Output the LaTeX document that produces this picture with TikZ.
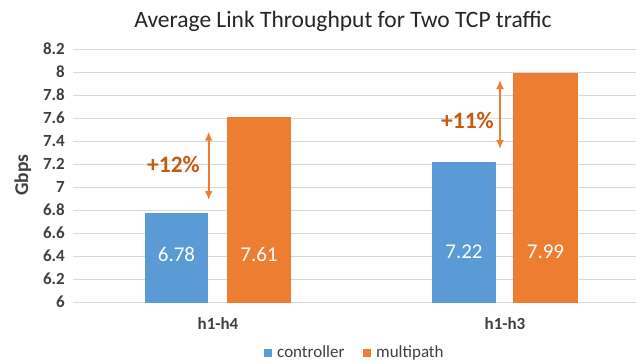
\documentclass[tikz,border=0pt]{standalone}
\usepackage{fontspec}
\setmainfont{Carlito}
\usepackage{tikz}
\usetikzlibrary{arrows.meta, positioning}
\definecolor{barblue}{HTML}{5B9BD5}
\definecolor{barorange}{HTML}{ED7D31}
\definecolor{gaintext}{HTML}{C55A11}
\definecolor{gridgray}{HTML}{D9D9D9}
\definecolor{axistext}{HTML}{404040}
\definecolor{titletext}{HTML}{262626}

\begin{document}
\begin{tikzpicture}[x=1pt,y=-1pt,>={Latex[length=9pt,width=8pt]},
        gridline/.style={gridgray, line width=1pt},
        ticklab/.style={anchor=base east, inner sep=0pt, text=axistext, font=\bfseries\fontsize{17}{20}\selectfont},
        catlab/.style={anchor=base, inner sep=0pt, text=axistext, font=\bfseries\fontsize{17}{20}\selectfont},
        vallab/.style={anchor=base, inner sep=0pt, text=white, font=\fontsize{21}{24}\selectfont},
        gainlab/.style={anchor=base, inner sep=0pt, text=gaintext, font=\bfseries\fontsize{23.5}{26}\selectfont},
        gainarrow/.style={<->, barorange, line width=2pt},
        legendlab/.style={anchor=base west, inner sep=0pt, text=axistext, font=\fontsize{17}{20}\selectfont}]
    \useasboundingbox[fill=white] (0,0) rectangle (636,362);
    % title
    \node[anchor=base, inner sep=0pt, text=titletext, font=\fontsize{23.5}{26}\selectfont] (title) at (343,27) {Average Link Throughput for Two TCP traffic};
    % grid and ticks
    \foreach \lab [count=\i from 0] in {6,6.2,6.4,6.6,6.8,7,7.2,7.4,7.6,7.8,8,8.2} {
        \draw[gridline] (73,{302.7-\i*23.04}) -- (636,{302.7-\i*23.04});
        \node[ticklab] (tick\i) at (65,{307.7-\i*23.04}) {\lab};
    }
    \node[anchor=base, rotate=90, inner sep=0pt, text=axistext, font=\bfseries\fontsize{19.5}{22}\selectfont] (ylab) at (28,175) {Gbps};
    % bars
    \foreach \xl/\xr/\v/\col in {145/208/6.78/barblue, 227/291/7.61/barorange,
                                 432/496/7.22/barblue, 513/578/7.99/barorange}
        \fill[\col] (\xl,302.7) rectangle (\xr,{302.7-(\v-6)*115.2});
    \node[vallab] (v1) at (176.5,261.7) {6.78};
    \node[vallab] (v2) at (259,261.7) {7.61};
    \node[vallab] (v3) at (464,258.3) {7.22};
    \node[vallab] (v4) at (545.5,258.3) {7.99};
    % categories
    \node[catlab] (cat1) at (218,329.5) {h1-h4};
    \node[catlab] (cat2) at (505,329.5) {h1-h3};
    % gains
    \coordinate (g1lo) at (208.7,200);
    \coordinate (g1hi) at (208.7,131.7);
    \coordinate (g2lo) at (500,149);
    \coordinate (g2hi) at (500,80);
    \draw[gainarrow] (g1lo) -- (g1hi);
    \draw[gainarrow] (g2lo) -- (g2hi);
    \node[gainlab] (gain1) at (173.5,172.7) {+12\%};
    \node[gainlab] (gain2) at (467.5,128.3) {+11\%};
    % legend
    \fill[barblue] (264,349) rectangle (272,357);
    \node[legendlab] (leg1) at (277,357) {controller};
    \fill[barorange] (363,349) rectangle (371,357);
    \node[legendlab] (leg2) at (376,357) {multipath};
\end{tikzpicture}
\end{document}
